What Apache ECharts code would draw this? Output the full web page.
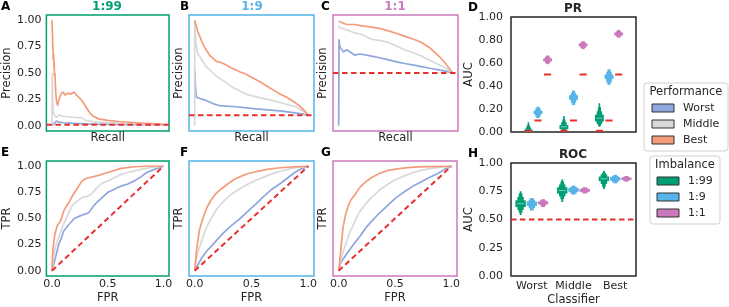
<!DOCTYPE html>
<html>
<head>
<meta charset="utf-8">
<script src="https://cdn.jsdelivr.net/npm/echarts@6/dist/echarts.min.js"></script>
<style>
html, body { margin: 0; padding: 0; background: #fff; }
#chart { width: 729px; height: 307px; }
</style>
</head>
<body>
<div id="chart"></div>
<script>
var classifiers = ['Worst', 'Middle', 'Best'];
var imbalances = ['1:99', '1:9', '1:1'];
var baselines = [0.01, 0.1, 0.5];
var unitTicks = [0, 0.25, 0.5, 0.75, 1];
var fprTicks = [0, 0.5, 1];

// PR curves, [recall, precision]
var pr_1_99_worst = [[0,0],[0.02,0.02],[0.04,0.045],[0.06,0.035],[0.1,0.028],[0.15,0.025],[0.2,0.022],[0.3,0.018],[0.4,0.016],[0.6,0.013],[0.8,0.011],[1,0.01]];
var pr_1_99_middle = [[0,0],[0.003,0.5],[0.008,0.2],[0.012,0.12],[0.02,0.1],[0.04,0.08],[0.06,0.1],[0.1,0.09],[0.15,0.085],[0.2,0.08],[0.27,0.075],[0.3,0.05],[0.4,0.035],[0.5,0.03],[0.6,0.025],[0.8,0.018],[1,0.011]];
var pr_1_99_best = [[0,1],[0.009,1.0],[0.012,0.62],[0.015,0.68],[0.018,0.55],[0.02,0.6],[0.023,0.47],[0.027,0.5],[0.03,0.4],[0.035,0.3],[0.04,0.24],[0.05,0.19],[0.06,0.24],[0.08,0.3],[0.1,0.32],[0.12,0.29],[0.14,0.31],[0.17,0.3],[0.2,0.32],[0.22,0.29],[0.25,0.26],[0.28,0.22],[0.31,0.17],[0.34,0.12],[0.37,0.09],[0.42,0.065],[0.5,0.05],[0.6,0.04],[0.7,0.033],[0.8,0.026],[0.9,0.02],[1,0.012]];

var pr_1_9_worst = [[0,0.53],[0.005,0.4],[0.015,0.27],[0.04,0.26],[0.1,0.24],[0.16,0.21],[0.22,0.19],[0.36,0.18],[0.54,0.16],[0.75,0.14],[0.9,0.12],[1,0.1]];
var pr_1_9_middle = [[0,0],[0,0.99],[0.005,0.9],[0.01,0.79],[0.025,0.69],[0.055,0.64],[0.1,0.56],[0.16,0.5],[0.2,0.46],[0.25,0.43],[0.3,0.39],[0.34,0.36],[0.4,0.33],[0.45,0.3],[0.52,0.28],[0.6,0.26],[0.68,0.24],[0.75,0.22],[0.82,0.2],[0.89,0.18],[0.95,0.14],[1,0.1]];
var pr_1_9_best = [[0,1],[0.01,0.96],[0.025,0.9],[0.04,0.86],[0.055,0.82],[0.07,0.78],[0.084,0.75],[0.1,0.72],[0.13,0.67],[0.16,0.64],[0.19,0.61],[0.23,0.6],[0.27,0.58],[0.32,0.55],[0.36,0.53],[0.4,0.51],[0.45,0.49],[0.5,0.46],[0.57,0.42],[0.63,0.38],[0.69,0.34],[0.75,0.3],[0.81,0.27],[0.87,0.23],[0.92,0.19],[0.96,0.15],[1,0.1]];

var pr_1_1_worst = [[0,0],[0.003,0.82],[0.01,0.75],[0.04,0.7],[0.07,0.72],[0.14,0.67],[0.19,0.68],[0.29,0.66],[0.36,0.645],[0.44,0.625],[0.51,0.605],[0.58,0.59],[0.66,0.575],[0.73,0.56],[0.8,0.545],[0.88,0.53],[0.95,0.515],[1,0.5]];
var pr_1_1_middle = [[0,0.95],[0.01,0.93],[0.07,0.91],[0.14,0.88],[0.19,0.87],[0.29,0.82],[0.36,0.81],[0.44,0.79],[0.51,0.755],[0.58,0.72],[0.66,0.69],[0.73,0.66],[0.8,0.62],[0.88,0.58],[0.95,0.54],[1,0.5]];
var pr_1_1_best = [[0,0.99],[0.01,0.98],[0.07,0.96],[0.14,0.96],[0.19,0.95],[0.29,0.935],[0.37,0.92],[0.44,0.9],[0.51,0.875],[0.58,0.85],[0.66,0.82],[0.73,0.79],[0.8,0.74],[0.85,0.69],[0.9,0.64],[0.94,0.59],[0.97,0.55],[0.99,0.52],[1,0.5]];

// ROC curves, [fpr, tpr]
var roc_1_99_worst = [[0,0],[0.03,0.12],[0.06,0.25],[0.08,0.3],[0.105,0.38],[0.15,0.44],[0.2,0.5],[0.24,0.52],[0.33,0.555],[0.38,0.63],[0.44,0.69],[0.5,0.75],[0.56,0.78],[0.62,0.81],[0.68,0.83],[0.74,0.86],[0.8,0.9],[0.85,0.94],[0.92,0.97],[1,1]];
var roc_1_99_middle = [[0,0],[0.015,0.15],[0.03,0.22],[0.047,0.28],[0.07,0.35],[0.09,0.41],[0.135,0.52],[0.18,0.62],[0.22,0.66],[0.27,0.7],[0.31,0.71],[0.35,0.73],[0.4,0.79],[0.44,0.83],[0.5,0.86],[0.56,0.89],[0.62,0.92],[0.68,0.94],[0.8,0.97],[0.9,0.99],[1,1]];
var roc_1_99_best = [[0,0],[0.005,0.15],[0.01,0.22],[0.02,0.3],[0.026,0.35],[0.047,0.43],[0.076,0.475],[0.09,0.52],[0.105,0.57],[0.13,0.62],[0.15,0.65],[0.18,0.71],[0.21,0.76],[0.24,0.81],[0.27,0.86],[0.3,0.88],[0.33,0.89],[0.41,0.91],[0.47,0.93],[0.53,0.95],[0.62,0.98],[0.74,0.995],[0.85,1],[1,1]];

var roc_1_9_worst = [[0,0],[0.03,0.06],[0.06,0.12],[0.115,0.2],[0.16,0.25],[0.2,0.3],[0.26,0.37],[0.32,0.43],[0.4,0.5],[0.47,0.57],[0.54,0.64],[0.61,0.715],[0.68,0.78],[0.76,0.84],[0.82,0.89],[0.88,0.94],[0.94,0.975],[1,1]];
var roc_1_9_middle = [[0,0],[0.015,0.12],[0.035,0.2],[0.06,0.28],[0.085,0.36],[0.115,0.44],[0.155,0.52],[0.2,0.6],[0.26,0.67],[0.32,0.73],[0.39,0.78],[0.47,0.83],[0.55,0.87],[0.64,0.91],[0.73,0.945],[0.82,0.97],[0.91,0.99],[1,1]];
var roc_1_9_best = [[0,0],[0.015,0.185],[0.04,0.38],[0.06,0.46],[0.085,0.54],[0.11,0.61],[0.14,0.67],[0.18,0.73],[0.23,0.78],[0.29,0.83],[0.35,0.875],[0.41,0.905],[0.47,0.93],[0.55,0.95],[0.64,0.97],[0.73,0.983],[0.82,0.99],[0.91,0.996],[1,1]];

var roc_1_1_worst = [[0,0],[0.02,0.08],[0.07,0.16],[0.13,0.25],[0.19,0.33],[0.24,0.41],[0.29,0.47],[0.36,0.55],[0.44,0.63],[0.51,0.7],[0.59,0.76],[0.66,0.81],[0.73,0.85],[0.8,0.89],[0.88,0.93],[0.94,0.97],[1,1]];
var roc_1_1_middle = [[0,0],[0.015,0.08],[0.04,0.18],[0.07,0.28],[0.1,0.37],[0.13,0.44],[0.16,0.51],[0.19,0.57],[0.24,0.64],[0.29,0.7],[0.36,0.77],[0.44,0.83],[0.51,0.875],[0.59,0.91],[0.66,0.94],[0.73,0.96],[0.82,0.98],[0.91,0.99],[1,1]];
var roc_1_1_best = [[0,0],[0.015,0.15],[0.03,0.32],[0.04,0.42],[0.06,0.53],[0.085,0.62],[0.11,0.68],[0.145,0.73],[0.19,0.8],[0.24,0.85],[0.29,0.89],[0.36,0.93],[0.44,0.96],[0.52,0.975],[0.59,0.985],[0.7,0.993],[0.8,0.997],[1,1]];

// AUC letter-value boxes per classifier: [lo, hi] from inner box outward, plus medians
var prBoxen_1_99 = [[[0,0.02],[0,0.04],[0,0.06],[0,0.085]], [[0.025,0.06],[0.02,0.085],[0.015,0.11],[0.01,0.14]], [[0.09,0.15],[0.07,0.18],[0.055,0.215],[0.045,0.25]]];
var prBoxen_1_9 = [[[0.155,0.185],[0.135,0.205],[0.12,0.22]], [[0.28,0.32],[0.255,0.34],[0.235,0.36]], [[0.46,0.5],[0.43,0.525],[0.41,0.545]]];
var prBoxen_1_1 = [[[0.615,0.64],[0.6,0.655],[0.59,0.665]], [[0.745,0.77],[0.73,0.78],[0.72,0.79]], [[0.84,0.865],[0.83,0.875],[0.82,0.887]]];
var prMedian_1_99 = [0.01, 0.045, 0.12];
var prMedian_1_9 = [0.17, 0.3, 0.48];
var prMedian_1_1 = [0.627, 0.757, 0.852];

var rocBoxen_1_99 = [[[0.61,0.67],[0.585,0.7],[0.56,0.73],[0.54,0.75]], [[0.73,0.785],[0.705,0.81],[0.68,0.835],[0.655,0.855]], [[0.84,0.88],[0.815,0.9],[0.79,0.915],[0.77,0.93]]];
var rocBoxen_1_9 = [[[0.62,0.66],[0.6,0.675],[0.58,0.69]], [[0.745,0.78],[0.73,0.79],[0.72,0.8]], [[0.845,0.875],[0.83,0.885],[0.82,0.895]]];
var rocBoxen_1_1 = [[[0.635,0.66],[0.625,0.67],[0.61,0.68]], [[0.745,0.77],[0.738,0.78],[0.73,0.785]], [[0.85,0.87],[0.843,0.878],[0.835,0.885]]];
var rocMedian_1_99 = [0.64, 0.757, 0.86];
var rocMedian_1_9 = [0.64, 0.763, 0.86];
var rocMedian_1_1 = [0.646, 0.757, 0.86];

var perfColors = ['#8fa6de', '#d9d9d9', '#f39b7b'];
var imbColors = ['#029e73', '#56b4e9', '#cc78bc'];
var red = '#e8302c';
var txt = '#262626';
var font = 'DejaVu Sans';
var hueOffsets = [-0.27, 0, 0.27];
var boxHalf = 0.125;
var widthFactors = [1, 0.62, 0.36, 0.18];

var myChart = echarts.init(document.getElementById('chart'));

var grids = [
    {left: 44, top: 15, width: 125, height: 116, borderColor: imbColors[0]},
    {left: 189, top: 15, width: 125, height: 116, borderColor: imbColors[1]},
    {left: 333, top: 15, width: 125, height: 116, borderColor: imbColors[2]},
    {left: 511, top: 17, width: 125, height: 115, borderColor: '#262626'},
    {left: 44, top: 161, width: 125, height: 115, borderColor: imbColors[0]},
    {left: 189, top: 161, width: 125, height: 115, borderColor: imbColors[1]},
    {left: 333, top: 161, width: 124, height: 115, borderColor: imbColors[2]},
    {left: 511, top: 163, width: 125, height: 115, borderColor: '#262626'}
];
grids.forEach(function (g) { g.show = true; g.borderWidth = 1.5; g.backgroundColor = 'transparent'; });

function fixed(n) { return function (v) { return Number(v).toFixed(n); }; }

function axis(gi, o) {
    var a = {
        gridIndex: gi, type: 'value', min: o.min, max: o.max,
        axisLine: {show: false}, axisTick: {show: false}, splitLine: {show: false},
        axisLabel: {show: !!o.labels, color: txt, fontFamily: font, fontSize: 11, margin: o.margin || 5},
        name: o.name || '', nameLocation: 'middle', nameGap: o.nameGap || 0,
        nameTextStyle: {color: txt, fontFamily: font, fontSize: 11.5}
    };
    if (o.labels) {
        if (o.labels.custom) a.axisLabel.customValues = o.labels.custom;
        if (o.labels.interval) a.interval = o.labels.interval;
        a.axisLabel.formatter = o.labels.fmt;
    }
    return a;
}

var xAxes = [
    axis(0, {min: -0.05, max: 1.05, name: 'Recall', nameGap: 1}),
    axis(1, {min: -0.05, max: 1.05, name: 'Recall', nameGap: 1}),
    axis(2, {min: -0.05, max: 1.05, name: 'Recall', nameGap: 1}),
    axis(3, {min: -0.76, max: 2.76}),
    axis(4, {min: -0.05, max: 1.05, name: 'FPR', nameGap: 16, margin: 3, labels: {custom: fprTicks, fmt: fixed(1)}}),
    axis(5, {min: -0.05, max: 1.05, name: 'FPR', nameGap: 16, margin: 3, labels: {custom: fprTicks, fmt: fixed(1)}}),
    axis(6, {min: -0.05, max: 1.05, name: 'FPR', nameGap: 16, margin: 3, labels: {custom: fprTicks, fmt: fixed(1)}}),
    axis(7, {min: -0.5, max: 2.5, name: 'Classifier', nameGap: 18, margin: 5,
        labels: {custom: [0, 1, 2], fmt: function (v) { return classifiers[Math.round(v)]; }}})
];
var yAxes = [
    axis(0, {min: -0.05, max: 1.05, name: 'Precision', nameGap: 32, labels: {custom: unitTicks, fmt: fixed(2)}}),
    axis(1, {min: -0.05, max: 1.05, name: 'Precision', nameGap: 4}),
    axis(2, {min: -0.05, max: 1.05, name: 'Precision', nameGap: 4}),
    axis(3, {min: 0, max: 1, name: 'AUC', nameGap: 35, margin: 8, labels: {interval: 0.2, fmt: fixed(2)}}),
    axis(4, {min: -0.05, max: 1.05, name: 'TPR', nameGap: 32, labels: {custom: unitTicks, fmt: fixed(2)}}),
    axis(5, {min: -0.05, max: 1.05, name: 'TPR', nameGap: 4}),
    axis(6, {min: -0.05, max: 1.05, name: 'TPR', nameGap: 4}),
    axis(7, {min: 0, max: 1, name: 'AUC', nameGap: 35, margin: 8, labels: {interval: 0.25, fmt: fixed(2)}})
];

var series = [];
function curvePanel(gi, curves, ref) {
    curves.forEach(function (d, k) {
        series.push({
            type: 'line', name: classifiers[k], xAxisIndex: gi, yAxisIndex: gi, data: d,
            symbol: 'none', lineStyle: {color: perfColors[k], width: 1.7}
        });
    });
    series.push({
        type: 'line', xAxisIndex: gi, yAxisIndex: gi, data: ref, symbol: 'none',
        lineStyle: {color: red, width: 2, type: [5.5, 3.5]}
    });
}
curvePanel(0, [pr_1_99_worst, pr_1_99_middle, pr_1_99_best], [[-0.05, baselines[0]], [1.05, baselines[0]]]);
curvePanel(1, [pr_1_9_worst, pr_1_9_middle, pr_1_9_best], [[-0.05, baselines[1]], [1.05, baselines[1]]]);
curvePanel(2, [pr_1_1_worst, pr_1_1_middle, pr_1_1_best], [[-0.05, baselines[2]], [1.05, baselines[2]]]);
curvePanel(4, [roc_1_99_worst, roc_1_99_middle, roc_1_99_best], [[0, 0], [1, 1]]);
curvePanel(5, [roc_1_9_worst, roc_1_9_middle, roc_1_9_best], [[0, 0], [1, 1]]);
curvePanel(6, [roc_1_1_worst, roc_1_1_middle, roc_1_1_best], [[0, 0], [1, 1]]);

function boxenSeries(gi, h, boxes, meds) {
    return {
        type: 'custom', name: imbalances[h], xAxisIndex: gi, yAxisIndex: gi,
        data: classifiers.map(function (c, i) { return [i + hueOffsets[h], meds[i]]; }),
        renderItem: function (params, api) {
            var x = api.value(0);
            var levels = boxes[params.dataIndex];
            var children = [];
            for (var k = levels.length - 1; k >= 0; k--) {
                var hw = boxHalf * widthFactors[k];
                var p1 = api.coord([x - hw, levels[k][1]]);
                var p2 = api.coord([x + hw, levels[k][0]]);
                children.push({
                    type: 'rect',
                    shape: {x: p1[0], y: p1[1], width: p2[0] - p1[0], height: Math.max(p2[1] - p1[1], 1)},
                    style: {fill: imbColors[h], stroke: null}
                });
            }
            if (h === 0) {
                var m1 = api.coord([x - boxHalf * 0.7, api.value(1)]);
                var m2 = api.coord([x + boxHalf * 0.7, api.value(1)]);
                children.push({type: 'line', shape: {x1: m1[0], y1: m1[1], x2: m2[0], y2: m2[1]},
                    style: {stroke: 'rgba(255,255,255,0.45)', lineWidth: 1}});
            }
            return {type: 'group', children: children};
        }
    };
}
series.push(boxenSeries(3, 0, prBoxen_1_99, prMedian_1_99));
series.push(boxenSeries(3, 1, prBoxen_1_9, prMedian_1_9));
series.push(boxenSeries(3, 2, prBoxen_1_1, prMedian_1_1));
series.push(boxenSeries(7, 0, rocBoxen_1_99, rocMedian_1_99));
series.push(boxenSeries(7, 1, rocBoxen_1_9, rocMedian_1_9));
series.push(boxenSeries(7, 2, rocBoxen_1_1, rocMedian_1_1));

// random-classifier PR baseline for each imbalance level
var dashData = [];
baselines.forEach(function (b, h) {
    classifiers.forEach(function (c, i) { dashData.push([i + hueOffsets[h], b]); });
});
series.push({
    type: 'custom', xAxisIndex: 3, yAxisIndex: 3, data: dashData,
    renderItem: function (params, api) {
        var a = api.coord([api.value(0) - 0.1, api.value(1)]);
        var b = api.coord([api.value(0) + 0.1, api.value(1)]);
        return {type: 'line', shape: {x1: a[0], y1: a[1], x2: b[0], y2: b[1]}, style: {stroke: red, lineWidth: 2}};
    }
});
series.push({
    type: 'line', xAxisIndex: 7, yAxisIndex: 7, data: [[-0.5, 0.5], [2.5, 0.5]], symbol: 'none',
    lineStyle: {color: red, width: 2, type: [5.5, 3.5]}
});

function label(text, x, y, size, color, bold, align) {
    return {
        type: 'text', x: x, y: y, silent: true,
        style: {text: text, fill: color, font: (bold ? 'bold ' : '') + size + 'px "' + font + '"',
            align: align || 'center', verticalAlign: 'middle', textAlign: align || 'center', textVerticalAlign: 'middle'}
    };
}

var graphics = [
    label('A', 1, 7, 12, '#000', true, 'left'),
    label('B', 180, 7, 12, '#000', true, 'left'),
    label('C', 321, 7, 12, '#000', true, 'left'),
    label('D', 468, 8, 12, '#000', true, 'left'),
    label('E', 1, 153, 12, '#000', true, 'left'),
    label('F', 180, 153, 12, '#000', true, 'left'),
    label('G', 321, 153, 12, '#000', true, 'left'),
    label('H', 468, 154, 12, '#000', true, 'left'),
    label(imbalances[0], 107, 7, 12, imbColors[0], true),
    label(imbalances[1], 252, 7, 12, imbColors[1], true),
    label(imbalances[2], 395, 7, 12, imbColors[2], true),
    label('PR', 573, 9, 12, txt, true),
    label('ROC', 573, 155, 12, txt, true)
];

function legendBlock(x, y, w, h, title, names, colors, swX, txX) {
    graphics.push({type: 'rect', shape: {x: x, y: y, width: w, height: h, r: 3},
        style: {fill: '#fff', stroke: '#d0d0d0', lineWidth: 1}});
    graphics.push(label(title, x + w / 2, y + 9.5, 11.5, txt, false));
    names.forEach(function (n, i) {
        var cy = y + 25 + i * 16;
        graphics.push({type: 'rect', shape: {x: swX, y: cy - 4, width: 22, height: 8},
            style: {fill: colors[i], stroke: '#333', lineWidth: 1}});
        graphics.push(label(n, txX, cy, 11, txt, false, 'left'));
    });
}
legendBlock(644, 83, 84, 68, 'Performance', classifiers, perfColors, 652, 683);
legendBlock(650, 156, 70, 68, 'Imbalance', imbalances, imbColors, 657, 688);

var option = {
    animation: false,
    grid: grids,
    xAxis: xAxes,
    yAxis: yAxes,
    series: series,
    graphic: graphics
};
myChart.setOption(option);
</script>
</body>
</html>
